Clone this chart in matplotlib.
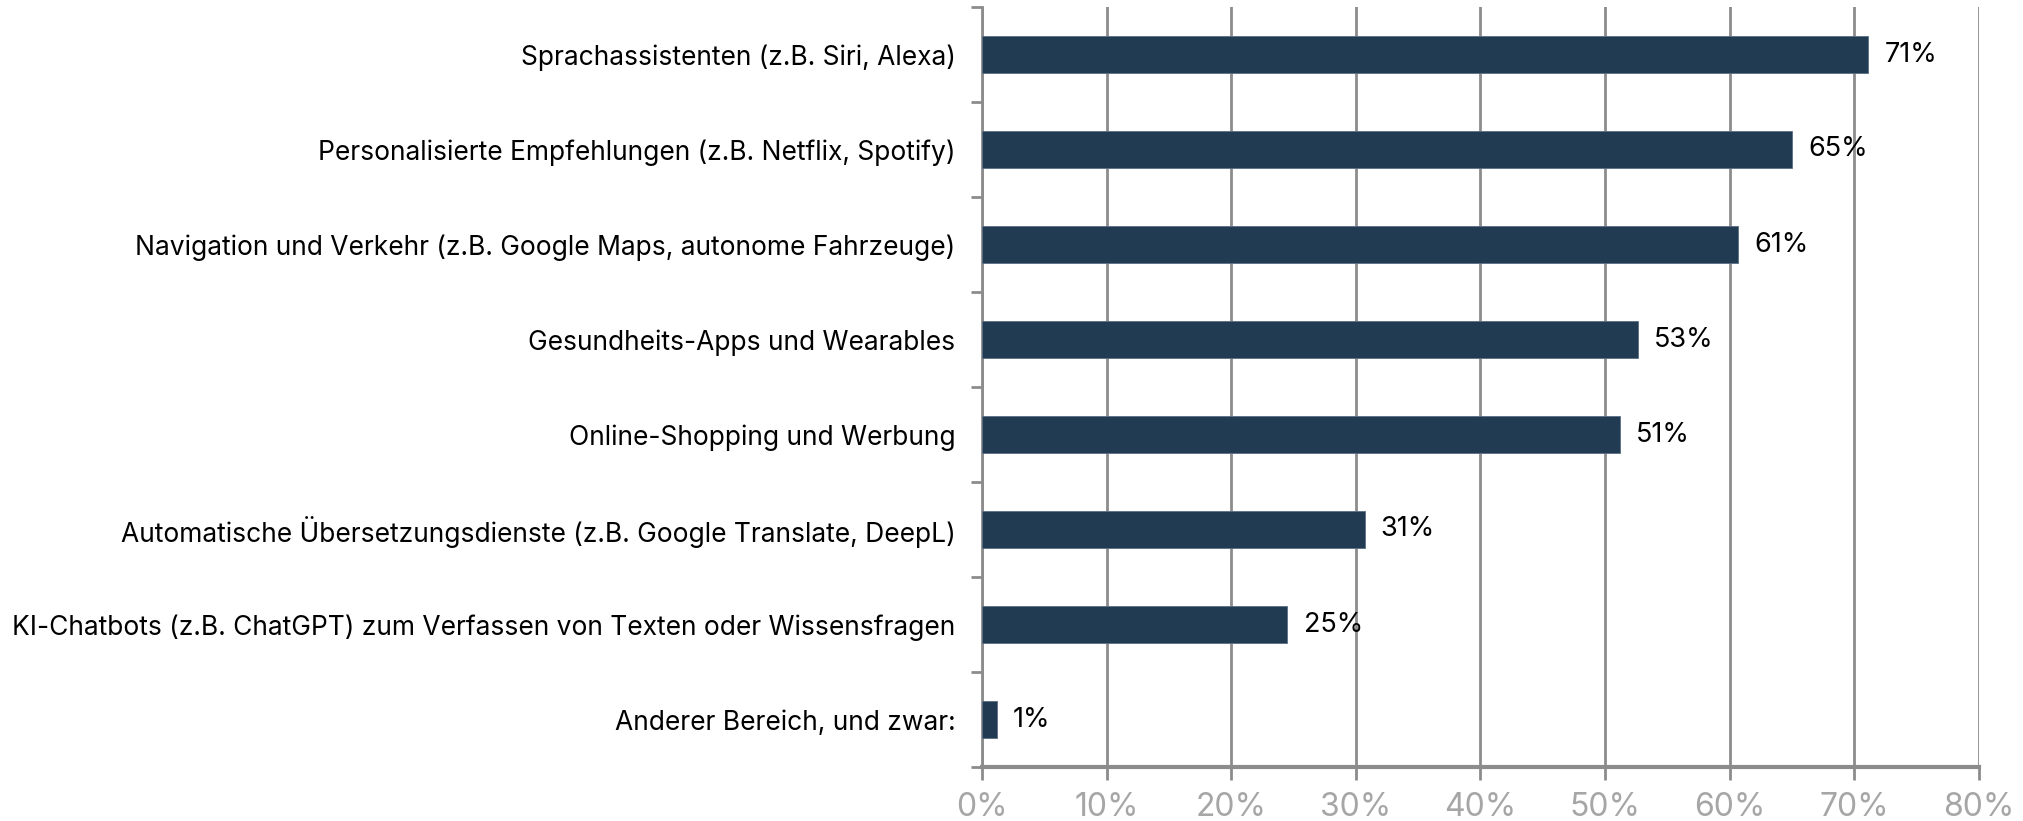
import numpy as np
import matplotlib.pyplot as plt
from matplotlib.ticker import FixedLocator

categories = [
    "Sprachassistenten (z.B. Siri, Alexa)",
    "Personalisierte Empfehlungen (z.B. Netflix, Spotify)",
    "Navigation und Verkehr (z.B. Google Maps, autonome Fahrzeuge)",
    "Gesundheits-Apps und Wearables",
    "Online-Shopping und Werbung",
    "Automatische Übersetzungsdienste (z.B. Google Translate, DeepL)",
    "KI-Chatbots (z.B. ChatGPT) zum Verfassen von Texten oder Wissensfragen",
    "Anderer Bereich, und zwar:",
]
values = [71.1, 65.0, 60.7, 52.6, 51.2, 30.7, 24.5, 1.2]
labels = ["71%", "65%", "61%", "53%", "51%", "31%", "25%", "1%"]
xticks = [0, 10, 20, 30, 40, 50, 60, 70, 80]

plt.rcParams["font.family"] = ["Inter", "DejaVu Sans"]

grey = "#8c8c8c"
bar_color = "#213b53"

fig = plt.figure(figsize=(20.24, 8.21), dpi=100)
ax = fig.add_axes([982 / 2024, 1 - 767 / 821, (1979 - 982) / 2024, 760 / 821])

y = np.arange(len(categories))
ax.barh(y, values, height=0.39, color=bar_color, edgecolor="#5b6f84", linewidth=0.6, zorder=3)

for yi, v, lab in zip(y, values, labels):
    ax.text(v + 1.3, yi, lab, va="center", ha="left", fontsize=19.5, color="black")

ax.set_xlim(0, 80)
ax.set_ylim(len(categories) - 0.5, -0.5)

ax.set_xticks(xticks)
ax.set_xticklabels([f"{t}%" for t in xticks], color="#a6a6a6", fontsize=23)
ax.tick_params(axis="x", length=9, width=2, color=grey, pad=9)

ax.set_yticks(y)
ax.set_yticklabels(categories, fontsize=19, color="black")
ax.tick_params(axis="y", which="major", length=0, pad=19)
ax.yaxis.set_minor_locator(FixedLocator(np.arange(-0.5, len(categories), 1)))
ax.tick_params(axis="y", which="minor", length=8, width=2, color=grey)

ax.grid(axis="x", color=grey, linewidth=2, zorder=0)
ax.set_axisbelow(True)

for side in ["top", "right"]:
    ax.spines[side].set_visible(False)
ax.spines["left"].set_color(grey)
ax.spines["left"].set_linewidth(2)
ax.spines["bottom"].set_color(grey)
ax.spines["bottom"].set_linewidth(3)

fig.savefig("out.png", dpi=100)
